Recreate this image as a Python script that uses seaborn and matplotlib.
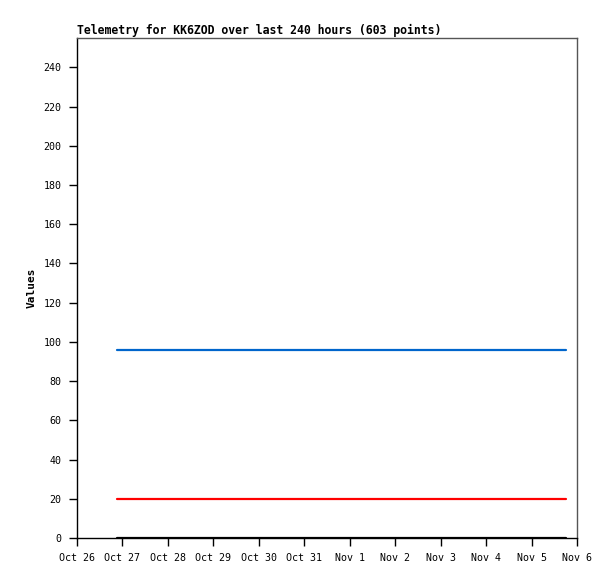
import matplotlib
matplotlib.use("Agg")
import matplotlib.pyplot as plt
import matplotlib.dates as mdates
import seaborn as sns
import pandas as pd

# Data
times = ["2023-10-26 21:00", "2023-11-05 18:00"]
series_names = ["Ch1", "Ch2", "Ch3"]
ch1_values = [96.0, 96.0]
ch2_values = [20.0, 20.0]
ch3_values = [0.0, 0.0]
colors = ["#0066cc", "#ff0000", "#000000"]
title = "Telemetry for KK6ZOD over last 240 hours (603 points)"

rows = []
for name, vals in zip(series_names, [ch1_values, ch2_values, ch3_values]):
    for t, v in zip(times, vals):
        rows.append({"time": pd.Timestamp(t), "value": v, "series": name})
df = pd.DataFrame(rows)

sns.set_style("white")
plt.rcParams["font.family"] = ["DejaVu Sans Mono"]
plt.rcParams["text.color"] = "black"
plt.rcParams["axes.labelcolor"] = "black"
plt.rcParams["xtick.color"] = "black"
plt.rcParams["ytick.color"] = "black"

fig = plt.figure(figsize=(6.15, 5.79), dpi=100)
ax = fig.add_axes([77/615, 41/579, 500/615, 500/579])

sns.lineplot(data=df, x="time", y="value", hue="series",
             palette=dict(zip(series_names, colors)), linewidth=1.6,
             legend=False, ax=ax)

ax.set_xlim(pd.Timestamp("2023-10-26"), pd.Timestamp("2023-11-06"))
ax.set_ylim(0, 255)
ax.set_yticks(range(0, 241, 20))
ax.xaxis.set_major_locator(mdates.DayLocator())
ax.xaxis.set_major_formatter(mdates.DateFormatter("%b %-d"))

ax.tick_params(axis="both", direction="out", length=6, width=1, colors="black",
               labelsize=7.2, pad=5, left=True, bottom=True)
ax.set_xlabel("")
ax.set_ylabel("Values", fontsize=8, fontweight="bold", labelpad=5, color="black")
ax.set_title(title, loc="left", fontsize=8.3, fontweight="bold", pad=3, color="black")

for side in ["left", "bottom"]:
    ax.spines[side].set_color("black")
    ax.spines[side].set_linewidth(1)
for side in ["top", "right"]:
    ax.spines[side].set_color("#555555")
    ax.spines[side].set_linewidth(1)

fig.savefig("out.png", dpi=100)
